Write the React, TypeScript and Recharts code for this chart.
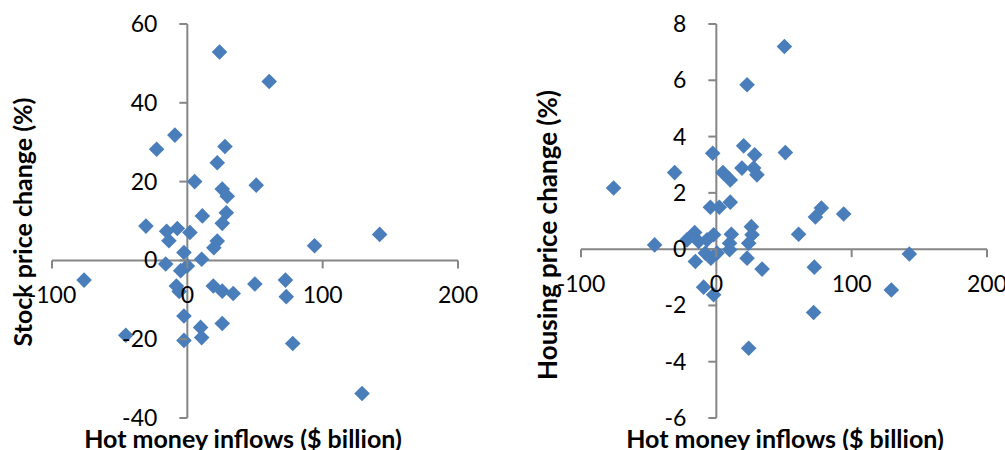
import { ScatterChart, Scatter, XAxis, YAxis, ReferenceLine, ReferenceDot } from "recharts";

// Hot money inflows ($ billion) against stock price change (%)
const stockInflows = [
  23.8, 60.5, -9.2, -22.7, 27.8, 22.1, 5.4, 50.9, 25.8, 29.5, 11.1, 28.8, 25.8, -30.6, -15.3,
  -7.4, 1.9, -13.6, 22.1, 19.6, -2.5, 10.6, -16, -4.9, 0, -76.3, -8.1, -6, 19.2, 25.8, 33.9,
  49.9, 72.5, 73.1, -2.5, 9.8, 25.8, -45.5, -2.5, 10.6, 77.9, 129.1, 94, 142.1,
];
const stockChange = [
  52.9, 45.4, 31.8, 28.2, 28.9, 24.8, 20.0, 19.1, 18.1, 16.3, 11.3, 12.1, 9.4, 8.7, 7.4,
  8.1, 7.1, 5.0, 4.9, 3.2, 2.0, 0.3, -0.9, -2.6, -1.4, -5.0, -6.5, -7.9, -6.5, -7.8, -8.4,
  -6.0, -5.0, -9.2, -14.1, -17.0, -16.0, -19.0, -20.3, -19.6, -21.1, -33.8, 3.7, 6.6,
];

// Hot money inflows ($ billion) against housing price change (%)
const housingInflows = [
  50.3, 22.7, 20.2, 51, -2.7, 28.3, -30.8, 18.9, 27.6, 30, 4.9, 10.3, -75.9, -4.4, 2.2,
  10.3, 77.6, 73.2, 94.1, -45.6, -21.7, -16, -13.1, -6.9, -2, 11.1, 9.8, 9.8, 25.9, 26.4,
  23.9, -15.5, -8.1, -4, 0.5, 22.7, 33.8, 60.8, 72.4, 71.9, 23.9, 142.6, 129.3, -9.4, -2,
];
const housingChange = [
  7.2, 5.84, 3.67, 3.43, 3.41, 3.35, 2.72, 2.88, 2.88, 2.64, 2.72, 2.46, 2.17, 1.49, 1.49,
  1.67, 1.46, 1.14, 1.25, 0.15, 0.33, 0.59, 0.27, 0.33, 0.51, 0.53, 0.21, -0.02, 0.8, 0.51,
  0.21, -0.44, -0.14, -0.32, -0.14, -0.32, -0.71, 0.53, -0.64, -2.25, -3.52, -0.17, -1.45, -1.35, -1.62,
];

const xTicks = [-100, 0, 100, 200];
const stockTicks = [-40, -20, 0, 20, 40, 60];
const housingTicks = [-6, -4, -2, 0, 2, 4, 6, 8];

const markerFill = "#4a7ebb";
const axisColor = "#868686";
const font = "Lato, 'Open Sans', sans-serif";

function Diamond(props: any) {
  const { cx, cy } = props;
  const r = 7.8;
  return (
    <polygon
      points={`${cx},${cy - r} ${cx + r},${cy} ${cx},${cy + r} ${cx - r},${cy}`}
      fill={markerFill}
    />
  );
}

// tick mark + label hung on a point of the x axis (y = 0)
function xTickShape(label: string) {
  return (p: any) => (
    <g>
      <line x1={p.cx} y1={p.cy} x2={p.cx} y2={p.cy + 8} stroke={axisColor} strokeWidth={2} />
      <text x={p.cx} y={p.cy + 35} dy="0.35em" textAnchor="middle" fontFamily={font} fontSize={23} fill="#000">
        {label}
      </text>
    </g>
  );
}

// tick mark + label hung on a point of the y axis (x = 0)
function yTickShape(label: string) {
  return (p: any) => (
    <g>
      <line x1={p.cx - 8} y1={p.cy} x2={p.cx} y2={p.cy} stroke={axisColor} strokeWidth={2} />
      <text x={p.cx - 30} y={p.cy} dy="0.35em" textAnchor="end" fontFamily={font} fontSize={23} fill="#000">
        {label}
      </text>
    </g>
  );
}

function Panel({
  xs,
  ys,
  yDomain,
  yTicks,
  width,
  margin,
}: {
  xs: number[];
  ys: number[];
  yDomain: [number, number];
  yTicks: number[];
  width: number;
  margin: { top: number; right: number; bottom: number; left: number };
}) {
  const data = xs.map((x, i) => ({ x, y: ys[i] }));
  return (
    <ScatterChart width={width} height={450} margin={margin}>
      <XAxis type="number" dataKey="x" domain={[-100, 200]} ticks={xTicks} hide />
      <YAxis type="number" dataKey="y" domain={yDomain} ticks={yTicks} hide />
      <ReferenceLine x={0} stroke={axisColor} strokeWidth={2} />
      <ReferenceLine y={0} stroke={axisColor} strokeWidth={2} />
      <Scatter data={data} shape={Diamond} isAnimationActive={false} />
      {xTicks.map((t) => (
        <ReferenceDot key={"x" + t} x={t} y={0} r={0} shape={xTickShape(String(t))} />
      ))}
      {yTicks.map((t) => (
        <ReferenceDot key={"y" + t} x={0} y={t} r={0} shape={yTickShape(String(t))} />
      ))}
    </ScatterChart>
  );
}

const titleStyle = { fontFamily: font, fontWeight: 700, fill: "#000" };

export default function App() {
  return (
    <div style={{ position: "absolute", left: 0, top: 0, width: 1005, height: 450, background: "#fff" }}>
      <div style={{ position: "absolute", left: 0, top: 0 }}>
        <Panel
          xs={stockInflows}
          ys={stockChange}
          yDomain={[-40, 60]}
          yTicks={stockTicks}
          width={500}
          margin={{ top: 24, right: 42, bottom: 32, left: 52 }}
        />
      </div>
      <div style={{ position: "absolute", left: 500, top: 0 }}>
        <Panel
          xs={housingInflows}
          ys={housingChange}
          yDomain={[-6, 8]}
          yTicks={housingTicks}
          width={505}
          margin={{ top: 24, right: 18, bottom: 32, left: 81 }}
        />
      </div>
      <svg width={1005} height={450} style={{ position: "absolute", left: 0, top: 0, pointerEvents: "none" }}>
        <text x={243} y={439} dy="0.35em" textAnchor="middle" fontSize={25} {...titleStyle}>
          Hot money inflows ($ billion)
        </text>
        <text x={785} y={439} dy="0.35em" textAnchor="middle" fontSize={25} {...titleStyle}>
          Hot money inflows ($ billion)
        </text>
        <text transform="translate(23,222) rotate(-90)" dy="0.35em" textAnchor="middle" fontSize={25} {...titleStyle}>
          Stock price change (%)
        </text>
        <text transform="translate(548,235) rotate(-90)" dy="0.35em" textAnchor="middle" fontSize={26} {...titleStyle}>
          Housing price change (%)
        </text>
      </svg>
    </div>
  );
}
